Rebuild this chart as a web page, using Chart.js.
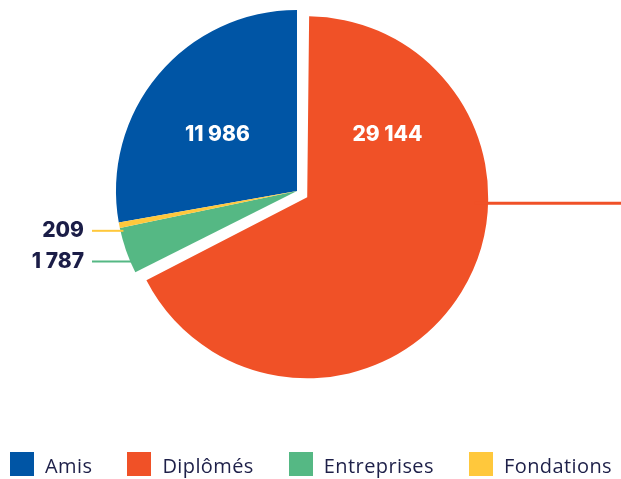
<!DOCTYPE html>
<html>
<head>
<meta charset="utf-8">
<script src="https://cdn.jsdelivr.net/npm/chart.js@4"></script>
<style>
  body { margin: 0; background: #fff; }
  #wrap { position: relative; width: 621px; height: 479px; }
  #legend { position: absolute; top: 452px; left: 10px; width: 602px; display: flex; justify-content: space-between; }
  .item { display: flex; align-items: flex-start; }
  .box { width: 24px; height: 24px; }
  .txt { margin-left: 11px; font: 20px 'Open Sans', sans-serif; letter-spacing: 0.4px; line-height: 24px; color: #1e2049; position: relative; top: 2px; }
</style>
</head>
<body>
<div id="wrap">
  <canvas id="myChart" width="621" height="479"></canvas>
  <div id="legend"></div>
</div>
<script>
var labels = ['Amis', 'Diplômés', 'Entreprises', 'Fondations'];
var values = [11986, 29144, 1787, 209];
var colors = ['#0055a5', '#f05127', '#55b884', '#ffc83c'];

var total = values.reduce(function(a, b) { return a + b; }, 0);

function fmt(v) {
    return String(v).replace(/\B(?=(\d{3})+(?!\d))/g, ' ');
}

// legend
var legend = document.getElementById('legend');
labels.forEach(function(l, i) {
    legend.innerHTML += '<div class="item"><span class="box" style="background:' + colors[i] + '"></span><span class="txt">' + l + '</span></div>';
});

// an offset arc also grows its radius in Chart.js; keep the exploded slice the same size
var keepRadius = {
    id: 'keepRadius',
    afterUpdate: function(chart) {
        chart.getDatasetMeta(0).data.forEach(function(a) {
            var off = (a.options.offset || 0) / 4;
            var circ = a.endAngle - a.startAngle;
            a.outerRadius -= off * (1 - Math.sin(Math.min(Math.PI, circ)));
        });
    }
};

// value labels + leader lines
var sliceLabels = {
    id: 'sliceLabels',
    afterDatasetsDraw: function(chart) {
        var ctx = chart.ctx;
        var arcs = chart.getDatasetMeta(0).data;
        var cx = arcs[0].x, cy = arcs[0].y, r = arcs[0].outerRadius;
        ctx.save();
        ctx.font = '800 21px Inter';
        ctx.textBaseline = 'middle';

        ctx.fillStyle = '#fff';
        ctx.textAlign = 'center';
        ctx.fillText(fmt(values[0]), cx - 0.44 * r, cy - 0.31 * r);
        ctx.fillText(fmt(values[1]), cx + 0.5 * r, cy - 0.31 * r);

        // small slices, labelled on the left
        [[3, 0.22], [2, 0.39]].forEach(function(p) {
            var i = p[0];
            var y = cy + p[1] * r;
            var xEdge = cx - Math.sqrt(r * r - Math.pow(p[1] * r, 2)) + 3;
            ctx.strokeStyle = colors[i];
            ctx.lineWidth = 2;
            ctx.beginPath();
            ctx.moveTo(cx - r - 24, y);
            ctx.lineTo(xEdge, y);
            ctx.stroke();
            ctx.fillStyle = '#1b1d47';
            ctx.textAlign = 'right';
            ctx.fillText(fmt(values[i]), cx - r - 32, y);
        });

        // line out of the big slice
        var a = arcs[1];
        var mid = (a.startAngle + a.endAngle) / 2;
        var off = a.options.offset / 4;
        var ox = cx + Math.cos(mid) * off, oy = cy + Math.sin(mid) * off;
        ctx.strokeStyle = colors[1];
        ctx.lineWidth = 3;
        ctx.beginPath();
        ctx.moveTo(ox + a.outerRadius - 2, oy + 6);
        ctx.lineTo(chart.width, oy + 6);
        ctx.stroke();
        ctx.restore();
    }
};

var myChart = new Chart(document.getElementById('myChart').getContext('2d'), {
    type: 'pie',
    data: {
        labels: labels,
        datasets: [{
            data: values,
            backgroundColor: colors,
            borderWidth: 0,
            offset: [0, 48, 0, 0],
            hoverOffset: 0,
            radius: 181,
            clip: false
        }]
    },
    options: {
        responsive: false,
        animation: false,
        rotation: -values[0] / total * 360,
        layout: { padding: { top: 0, right: 27, bottom: 97, left: 0 } },
        plugins: {
            legend: { display: false },
            tooltip: { enabled: false }
        }
    },
    plugins: [keepRadius, sliceLabels]
});
</script>
</body>
</html>
